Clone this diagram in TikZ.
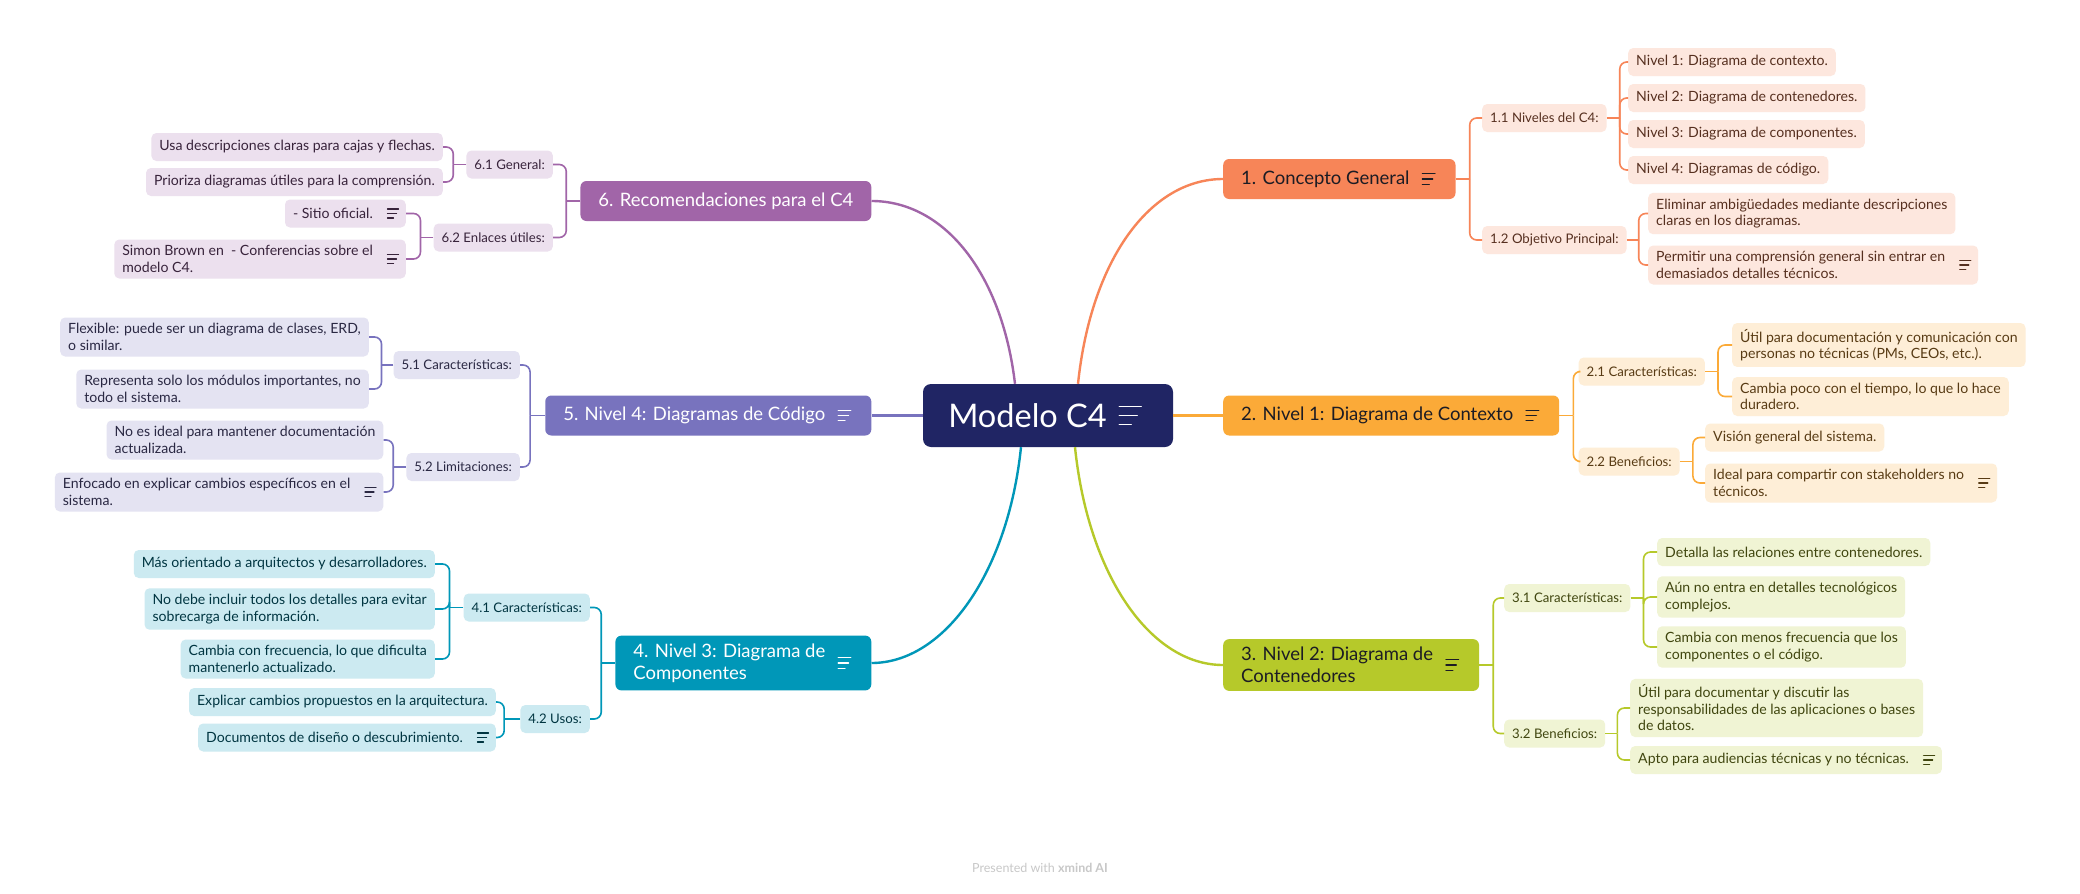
\documentclass[tikz,border=0pt]{standalone}
\usepackage{fontspec}
\setmainfont{Lato}
\usetikzlibrary{positioning}
\definecolor{Navy}{RGB}{32,37,100}
\definecolor{Coral}{RGB}{247,133,88}
\definecolor{Amber}{RGB}{251,170,56}
\definecolor{Lime}{RGB}{182,201,42}
\definecolor{Teal}{RGB}{0,151,184}
\definecolor{Violet}{RGB}{120,115,190}
\definecolor{Plum}{RGB}{161,101,168}
\definecolor{Ink}{RGB}{28,28,36}
\definecolor{FooterGray}{RGB}{200,200,200}

\begin{document}
\begin{tikzpicture}[
    x=1pt, y=-1pt,
    font=\fontsize{14.1}{16.5}\selectfont,
    hoja/.style={fill=#1!20, text=#1!35!black, rounded corners=5pt, inner xsep=8pt,
                 inner ysep=6pt, minimum height=28pt, align=left},
    sub/.style={hoja=#1, font=\fontsize{13.2}{16}\selectfont},
    rama/.style={fill=#1, rounded corners=6pt, inner xsep=18pt, inner ysep=8pt,
                 minimum height=40pt, align=left, font=\fontsize{18.5}{22}\selectfont},
    enlace/.style={draw=#1, line width=1.6pt, rounded corners=7pt},
    curva/.style={draw=#1, line width=2.4pt},
    notas/.pic={\draw[line width=1.3pt, line cap=round]
        (-5.5,-4.5) -- (5.5,-4.5) (-5.5,0) -- (3.5,0) (-5.5,4.5) -- (0.5,4.5);},
]
\fill[white] (0,0) rectangle (2080,894);
\useasboundingbox (0,0) rectangle (2080,894);

% --- tema central ---
\node[fill=Navy, text=white, rounded corners=8pt, minimum width=250pt, minimum height=63pt,
      font=\fontsize{32.5}{38}\selectfont] (c0) at (1048,415.5) {Modelo C4\hspace*{41pt}};
\pic[white, scale=2] at ([xshift=-43pt]c0.east) {notas};

% --- ramas principales ---
\node[rama=Coral, text=Ink, anchor=west] (n1) at (1223,179) {1. Concepto General\hspace*{28pt}};
\node[rama=Amber, text=Ink, anchor=west] (n2) at (1223,415.5) {2. Nivel 1: Diagrama de Contexto\hspace*{28pt}};
\node[rama=Lime, text=Ink, anchor=west] (n3) at (1223,665) {3. Nivel 2: Diagrama de\hspace*{28pt}\\Contenedores};
\node[rama=Plum, text=white, anchor=east] (n6) at (871.5,201) {6. Recomendaciones para el C4};
\node[rama=Violet, text=white, anchor=east] (n5) at (871.5,415.5) {5. Nivel 4: Diagramas de Código\hspace*{28pt}};
\node[rama=Teal, text=white, anchor=east] (n4) at (871.5,663) {4. Nivel 3: Diagrama de\hspace*{28pt}\\Componentes};
\foreach \n in {n1,n2,n3} \pic[Ink, scale=1.15] at ([xshift=-27pt]\n.east) {notas};
\foreach \n in {n4,n5} \pic[white, scale=1.15] at ([xshift=-27pt]\n.east) {notas};

\draw[curva=Coral] ([xshift=30pt]c0.north) .. controls +(13,-124) and +(-73,0) .. (n1.west);
\draw[curva=Amber] (c0.east) -- (n2.west);
\draw[curva=Lime] ([xshift=27pt]c0.south) .. controls +(13,127) and +(-73,0) .. (n3.west);
\draw[curva=Plum] ([xshift=-33pt]c0.north) .. controls +(-13,-110) and +(73,0) .. (n6.east);
\draw[curva=Violet] (c0.west) -- (n5.east);
\draw[curva=Teal] ([xshift=-27pt]c0.south) .. controls +(-13,125) and +(73,0) .. (n4.east);

% --- 1. Concepto General ---
\node[sub=Coral, anchor=west] (s11) at (1482,118) {1.1 Niveles del C4:};
\node[sub=Coral, anchor=west] (s12) at (1482,240) {1.2 Objetivo Principal:};
\node[hoja=Coral, anchor=west] (l11a) at (1628,62) {Nivel 1: Diagrama de contexto.};
\node[hoja=Coral, anchor=west] (l11b) at (1628,98) {Nivel 2: Diagrama de contenedores.};
\node[hoja=Coral, anchor=west] (l11c) at (1628,134) {Nivel 3: Diagrama de componentes.};
\node[hoja=Coral, anchor=west] (l11d) at (1628,170) {Nivel 4: Diagramas de código.};
\node[hoja=Coral, anchor=west] (l12a) at (1648,213.5) {Eliminar ambigüedades mediante descripciones\\claras en los diagramas.};
\node[hoja=Coral, anchor=west] (l12b) at (1648,265) {Permitir una comprensión general sin entrar en\hspace*{25pt}\\demasiados detalles técnicos.};
\pic[Coral!35!black] at ([xshift=-13pt]l12b.east) {notas};
\draw[enlace=Coral] (n1.east) -- ++(14,0) coordinate (j1);
\foreach \h in {s11,s12} \draw[enlace=Coral] (j1) |- (\h.west);
\draw[enlace=Coral] (s11.east) -- ++(13,0) coordinate (j11);
\foreach \h in {l11a,l11b,l11c,l11d} \draw[enlace=Coral] (j11) |- (\h.west);
\draw[enlace=Coral] (s12.east) -- ++(12,0) coordinate (j12);
\foreach \h in {l12a,l12b} \draw[enlace=Coral] (j12) |- (\h.west);

% --- 2. Nivel 1: Diagrama de Contexto ---
\node[sub=Amber, anchor=west] (s21) at (1578.5,371.5) {2.1 Características:};
\node[sub=Amber, anchor=west] (s22) at (1578.5,461.5) {2.2 Beneficios:};
\node[hoja=Amber, anchor=west] (l21a) at (1732,345) {Útil para documentación y comunicación con\\personas no técnicas (PMs, CEOs, etc.).};
\node[hoja=Amber, anchor=west] (l21b) at (1732,396.5) {Cambia poco con el tiempo, lo que lo hace\\duradero.};
\node[hoja=Amber, anchor=west] (l22a) at (1705,437.5) {Visión general del sistema.};
\node[hoja=Amber, anchor=west] (l22b) at (1705,483) {Ideal para compartir con stakeholders no\hspace*{25pt}\\técnicos.};
\pic[Amber!35!black] at ([xshift=-13pt]l22b.east) {notas};
\draw[enlace=Amber] (n2.east) -- ++(14,0) coordinate (j2);
\foreach \h in {s21,s22} \draw[enlace=Amber] (j2) |- (\h.west);
\draw[enlace=Amber] (s21.east) -- ++(13,0) coordinate (j21);
\foreach \h in {l21a,l21b} \draw[enlace=Amber] (j21) |- (\h.west);
\draw[enlace=Amber] (s22.east) -- ++(13,0) coordinate (j22);
\foreach \h in {l22a,l22b} \draw[enlace=Amber] (j22) |- (\h.west);

% --- 3. Nivel 2: Diagrama de Contenedores ---
\node[sub=Lime, anchor=west] (s31) at (1504,598) {3.1 Características:};
\node[sub=Lime, anchor=west] (s32) at (1504,733.5) {3.2 Beneficios:};
\node[hoja=Lime, anchor=west] (l31a) at (1657,552) {Detalla las relaciones entre contenedores.};
\node[hoja=Lime, anchor=west] (l31b) at (1657,597) {Aún no entra en detalles tecnológicos\\complejos.};
\node[hoja=Lime, anchor=west] (l31c) at (1657,647) {Cambia con menos frecuencia que los\\componentes o el código.};
\node[hoja=Lime, anchor=west] (l32a) at (1630,708) {Útil para documentar y discutir las\\responsabilidades de las aplicaciones o bases\\de datos.};
\node[hoja=Lime, anchor=west] (l32b) at (1630,760) {Apto para audiencias técnicas y no técnicas.\hspace*{25pt}};
\pic[Lime!35!black] at ([xshift=-13pt]l32b.east) {notas};
\draw[enlace=Lime] (n3.east) -- ++(14,0) coordinate (j3);
\foreach \h in {s31,s32} \draw[enlace=Lime] (j3) |- (\h.west);
\draw[enlace=Lime] (s31.east) -- ++(13,0) coordinate (j31);
\foreach \h in {l31a,l31b,l31c} \draw[enlace=Lime] (j31) |- (\h.west);
\draw[enlace=Lime] (s32.east) -- ++(12,0) coordinate (j32);
\foreach \h in {l32a,l32b} \draw[enlace=Lime] (j32) |- (\h.west);

% --- 6. Recomendaciones para el C4 ---
\node[sub=Plum, anchor=east] (s61) at (553,164.5) {6.1 General:};
\node[sub=Plum, anchor=east] (s62) at (553,237.5) {6.2 Enlaces útiles:};
\node[hoja=Plum, anchor=east] (l61a) at (443,147) {Usa descripciones claras para cajas y flechas.};
\node[hoja=Plum, anchor=east] (l61b) at (443,182) {Prioriza diagramas útiles para la comprensión.};
\node[hoja=Plum, anchor=east] (l62a) at (406,213.5) {- Sitio oficial.\hspace*{25pt}};
\node[hoja=Plum, anchor=east] (l62b) at (406,259) {Simon Brown en~ - Conferencias sobre el\hspace*{25pt}\\modelo C4.};
\foreach \n in {l62a,l62b} \pic[Plum!35!black] at ([xshift=-13pt]\n.east) {notas};
\draw[enlace=Plum] (n6.west) -- ++(-14,0) coordinate (j6);
\foreach \h in {s61,s62} \draw[enlace=Plum] (j6) |- (\h.east);
\draw[enlace=Plum] (s61.west) -- ++(-13,0) coordinate (j61);
\foreach \h in {l61a,l61b} \draw[enlace=Plum] (j61) |- (\h.east);
\draw[enlace=Plum] (s62.west) -- ++(-13,0) coordinate (j62);
\foreach \h in {l62a,l62b} \draw[enlace=Plum] (j62) |- (\h.east);

% --- 5. Nivel 4: Diagramas de Código ---
\node[sub=Violet, anchor=east] (s51) at (520,365) {5.1 Características:};
\node[sub=Violet, anchor=east] (s52) at (520,467) {5.2 Limitaciones:};
\node[hoja=Violet, anchor=east] (l51a) at (369,337) {Flexible: puede ser un diagrama de clases, ERD,\\o similar.};
\node[hoja=Violet, anchor=east] (l51b) at (369,389) {Representa solo los módulos importantes, no\\todo el sistema.};
\node[hoja=Violet, anchor=east] (l52a) at (383.5,440) {No es ideal para mantener documentación\\actualizada.};
\node[hoja=Violet, anchor=east] (l52b) at (383.5,492) {Enfocado en explicar cambios específicos en el\hspace*{25pt}\\sistema.};
\pic[Violet!35!black] at ([xshift=-13pt]l52b.east) {notas};
\draw[enlace=Violet] (n5.west) -- ++(-15,0) coordinate (j5);
\foreach \h in {s51,s52} \draw[enlace=Violet] (j5) |- (\h.east);
\draw[enlace=Violet] (s51.west) -- ++(-12,0) coordinate (j51);
\foreach \h in {l51a,l51b} \draw[enlace=Violet] (j51) |- (\h.east);
\draw[enlace=Violet] (s52.west) -- ++(-13,0) coordinate (j52);
\foreach \h in {l52a,l52b} \draw[enlace=Violet] (j52) |- (\h.east);

% --- 4. Nivel 3: Diagrama de Componentes ---
\node[sub=Teal, anchor=east] (s41) at (590,607.5) {4.1 Características:};
\node[sub=Teal, anchor=east] (s42) at (590,719) {4.2 Usos:};
\node[hoja=Teal, anchor=east] (l41a) at (435,564) {Más orientado a arquitectos y desarrolladores.};
\node[hoja=Teal, anchor=east] (l41b) at (435,609) {No debe incluir todos los detalles para evitar\\sobrecarga de información.};
\node[hoja=Teal, anchor=east] (l41c) at (435,659) {Cambia con frecuencia, lo que dificulta\\mantenerlo actualizado.};
\node[hoja=Teal, anchor=east] (l42a) at (496,702) {Explicar cambios propuestos en la arquitectura.};
\node[hoja=Teal, anchor=east] (l42b) at (496,737.5) {Documentos de diseño o descubrimiento.\hspace*{25pt}};
\pic[Teal!35!black] at ([xshift=-13pt]l42b.east) {notas};
\draw[enlace=Teal] (n4.west) -- ++(-14,0) coordinate (j4);
\foreach \h in {s41,s42} \draw[enlace=Teal] (j4) |- (\h.east);
\draw[enlace=Teal] (s41.west) -- ++(-14,0) coordinate (j41);
\foreach \h in {l41a,l41b,l41c} \draw[enlace=Teal] (j41) |- (\h.east);
\draw[enlace=Teal] (s42.west) -- ++(-16,0) coordinate (j42);
\foreach \h in {l42a,l42b} \draw[enlace=Teal] (j42) |- (\h.east);

% --- pie ---
\node[text=FooterGray, font=\fontsize{12.5}{15}\selectfont] (pie) at (1040,868) {Presented with \textbf{xmind AI}};

\end{tikzpicture}
\end{document}
